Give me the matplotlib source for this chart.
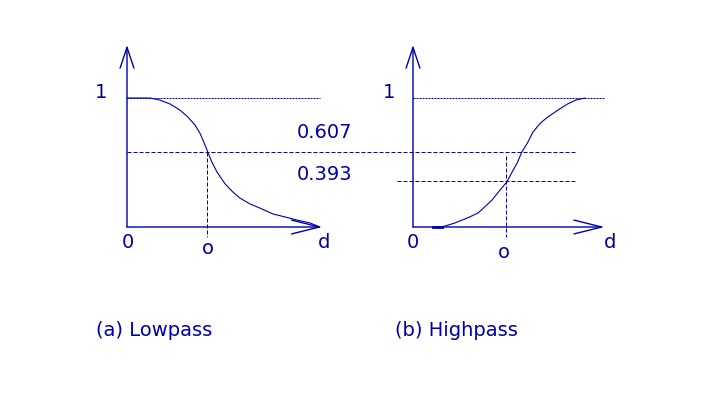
import numpy as np
import matplotlib
matplotlib.use('Agg')
import matplotlib.pyplot as plt

# d in units of sigma, H = filter response
low_d = [0.0, 0.29, 0.41, 0.54, 0.66, 0.76, 0.85, 0.91, 0.96, 1.01, 1.06, 1.125,
         1.225, 1.325, 1.41, 1.54, 1.66, 1.825, 1.975, 2.125, 2.29, 2.41]
low_h = [1.0, 1.0, 0.984, 0.953, 0.907, 0.853, 0.791, 0.729, 0.659, 0.581, 0.504, 0.426,
         0.335, 0.27, 0.225, 0.178, 0.147, 0.101, 0.078, 0.054, 0.031, 0.0]

high_d = [0.215, 0.31, 0.45, 0.61, 0.70, 0.77, 0.85, 0.91, 1.01, 1.06, 1.12, 1.17,
          1.23, 1.29, 1.37, 1.45, 1.56, 1.66, 1.75, 1.85]
high_h = [0.0, 0.0, 0.031, 0.078, 0.109, 0.155, 0.209, 0.264, 0.35, 0.419, 0.496, 0.581,
          0.651, 0.736, 0.806, 0.853, 0.907, 0.953, 0.984, 1.0]

level_607 = 0.58   # where the 0.607 line is drawn
level_393 = 0.357  # where the 0.393 line is drawn
level_labels = ['0.607', '0.393']
captions = ['(a) Lowpass', '(b) Highpass']

col = '#0000AA'
W, H = 720, 396
plt.rcParams['font.family'] = ['DejaVu Sans']
fs = 14

fig = plt.figure(figsize=(7.2, 3.96), dpi=100)

def panel(x0, px_per_d, xmax_px):
    # origin at pixel (x0, 227), H=1 at y=98
    ax = fig.add_axes([x0 / W, (H - 227) / H, xmax_px / W, 129 / H])
    ax.set_xlim(0, xmax_px / px_per_d)
    ax.set_ylim(0, 1)
    ax.axis('off')
    return ax

ax1 = panel(127, 80, 200)
ax2 = panel(413, 93, 200)

arrow = dict(arrowstyle='->,head_length=2.0,head_width=0.5', color=col, lw=1.0,
             shrinkA=0, shrinkB=0)
arrow_y = dict(arrowstyle='->,head_length=1.5,head_width=0.5', color=col, lw=1.0,
               shrinkA=0, shrinkB=0)

# lowpass
ax1.annotate('', xy=(0, 1.41), xytext=(0, 0), arrowprops=arrow_y, annotation_clip=False)
ax1.annotate('', xy=(2.44, 0), xytext=(0, 0), arrowprops=arrow, annotation_clip=False)
ax1.plot([0, 2.41], [1, 1], color=col, lw=0.72, ls=(0, (2, 1)), clip_on=False)
ax1.plot([0, 5.6], [level_607, level_607], color=col, lw=0.72, ls=(0, (4, 2)), clip_on=False)
ax1.plot([1, 1], [level_607, -0.078], color=col, lw=0.72, ls=(0, (4, 2)), clip_on=False)
ax1.plot(low_d, low_h, color=col, lw=0.8, clip_on=False)

# highpass
ax2.annotate('', xy=(0, 1.41), xytext=(0, 0), arrowprops=arrow_y, annotation_clip=False)
ax2.annotate('', xy=(2.06, 0), xytext=(0, 0), arrowprops=arrow, annotation_clip=False)
ax2.plot([0, 2.06], [1, 1], color=col, lw=0.72, ls=(0, (2, 1)), clip_on=False)
ax2.plot([-0.17, 1.74], [level_393, level_393], color=col, lw=0.72, ls=(0, (4, 2)), clip_on=False)
ax2.plot([1, 1], [0.55, -0.078], color=col, lw=0.72, ls=(0, (4, 2)), clip_on=False)
ax2.plot(high_d, high_h, color=col, lw=0.8, clip_on=False)
ax2.plot(high_d[:2], high_h[:2], color=col, lw=2.0, clip_on=False)

def lab(ax, s, xy, off):
    ax.annotate(s, xy=xy, xytext=off, textcoords='offset pixels', ha='center',
                va='center', color=col, fontsize=fs, annotation_clip=False)

lab(ax1, '1', (0, 1), (-26, 5))
lab(ax1, '0', (0, 0), (1, -15))
lab(ax1, 'o', (1, 0), (1, -21))
lab(ax1, 'd', (2.44, 0), (2, -15))

lab(ax2, '1', (0, 1), (-24, 5))
lab(ax2, '0', (0, 0), (0, -15))
lab(ax2, 'o', (1, 0), (-2, -25))
lab(ax2, 'd', (2.06, 0), (5, -15))

fig.text(325 / W, 1 - 133 / H, level_labels[0], ha='center', va='center', color=col, fontsize=fs)
fig.text(325 / W, 1 - 175 / H, level_labels[1], ha='center', va='center', color=col, fontsize=fs)
fig.text(96 / W, 1 - 331 / H, captions[0], ha='left', va='center', color=col, fontsize=fs)
fig.text(395 / W, 1 - 331 / H, captions[1], ha='left', va='center', color=col, fontsize=fs)

fig.savefig('out.png', dpi=100)
